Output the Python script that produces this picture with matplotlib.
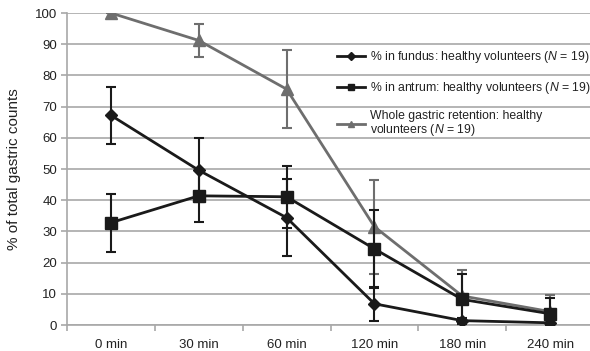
import matplotlib
matplotlib.use("Agg")
import matplotlib.pyplot as plt
from matplotlib.lines import Line2D
import numpy as np

plt.rcParams['font.family'] = ['Liberation Sans', 'DejaVu Sans']
plt.rcParams['mathtext.fontset'] = 'custom'
plt.rcParams['mathtext.rm'] = 'Liberation Sans'
plt.rcParams['mathtext.it'] = 'Liberation Sans:italic'

categories = ['0 min', '30 min', '60 min', '120 min', '180 min', '240 min']
fundus = [67.2, 49.6, 34.4, 6.8, 1.4, 0.7]
fundus_err = [9.2, 10.2, 12.3, 5.5, 1.0, 0.8]
antrum = [32.8, 41.4, 41.1, 24.4, 8.2, 3.6]
antrum_err = [9.3, 8.5, 10.0, 12.5, 8.0, 5.0]
whole = [100.0, 91.2, 75.6, 31.5, 9.3, 4.3]
whole_err = [0.0, 5.3, 12.6, 15.0, 8.3, 5.3]
yticks = [0, 10, 20, 30, 40, 50, 60, 70, 80, 90, 100]
labels = ['% in fundus: healthy volunteers ($\\mathit{N}$ = 19)',
          '% in antrum: healthy volunteers ($\\mathit{N}$ = 19)',
          'Whole gastric retention: healthy\nvolunteers ($\\mathit{N}$ = 19)']

black = '#1a1a1a'
gray = '#6e6e6e'
gridc = '#a8a8a8'

fig = plt.figure(figsize=(5.9, 3.51), dpi=100)
ax = fig.add_axes([67/590, 1-325/351, 527/590, 312/351])

x = np.arange(len(categories))

ax.errorbar(x, fundus, yerr=fundus_err, color=black, lw=2, marker='D', ms=6,
            capsize=3.5, elinewidth=1.5, capthick=1.5, zorder=4)
ax.errorbar(x, antrum, yerr=antrum_err, color=black, lw=2, marker='s', ms=8,
            capsize=3.5, elinewidth=1.5, capthick=1.5, zorder=4)
ax.errorbar(x, whole, yerr=whole_err, color=gray, lw=2, marker='^', ms=8,
            capsize=3.5, elinewidth=1.5, capthick=1.5, zorder=3)

handles = [Line2D([], [], color=black, lw=2, marker='D', ms=4),
           Line2D([], [], color=black, lw=2, marker='s', ms=5),
           Line2D([], [], color=gray, lw=2, marker='^', ms=5)]

ax.set_xlim(-0.5, len(categories) - 0.5)
ax.set_ylim(0, 100)
ax.set_yticks(yticks)
ax.set_xticks(x)
ax.set_xticklabels(categories)
ax.set_xticks(np.arange(-0.5, len(categories), 1.0), minor=True)
ax.tick_params(axis='x', which='major', length=0, pad=10, labelsize=9.5, colors='#222222')
ax.tick_params(axis='x', which='minor', length=4, width=1.2, color=gridc, direction='out')
ax.tick_params(axis='y', length=4, width=1.2, color=gridc, labelsize=9.5, labelcolor='#222222', pad=3)

ax.yaxis.grid(True, color=gridc, lw=1.2)
ax.set_axisbelow(True)
for s in ['top', 'right']:
    ax.spines[s].set_visible(False)
for s in ['left', 'bottom']:
    ax.spines[s].set_color(gridc)
    ax.spines[s].set_linewidth(1.2)

ax.set_ylabel('% of total gastric counts', fontsize=11, color='#222222', labelpad=10)

leg = ax.legend(handles, labels, loc='upper left', bbox_to_anchor=(331/590, 1-43/351),
                bbox_transform=fig.transFigure, frameon=False, fontsize=8.8,
                handlelength=2.3, handletextpad=0.35, labelspacing=1.2,
                borderpad=0)
for t in leg.get_texts():
    t.set_color('#222222')
    t.set_linespacing(0.95)

fig.savefig('out.png', dpi=100)
